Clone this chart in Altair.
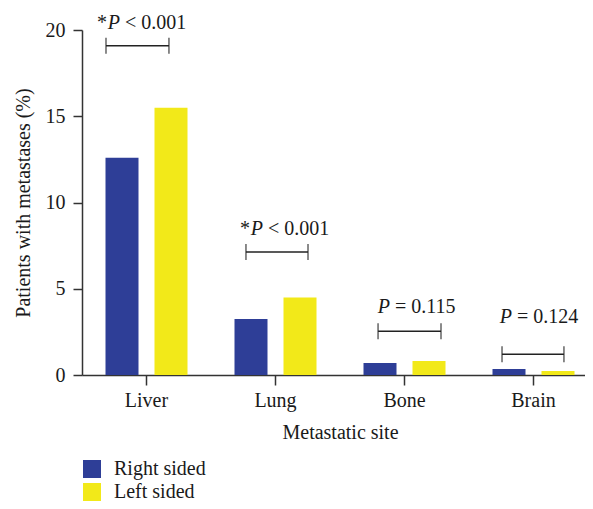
import altair as alt
import pandas as pd

sites = ["Liver", "Lung", "Bone", "Brain"]
sides = ["Right sided", "Left sided"]
colors = ["#2E3E97", "#F2E919"]
right_vals = [12.6, 3.24, 0.69, 0.35]
left_vals = [15.5, 4.5, 0.81, 0.23]

# annotation data (x in category units: Liver spans 0-1, Lung 1-2, ...)
br_x1 = [0.186, 1.271, 2.295, 3.256]
br_x2 = [0.674, 1.752, 2.783, 3.736]
br_y = [19.08, 7.13, 2.54, 1.21]
lab_x = [0.295, 1.403, 2.388, 3.333]
lab_y = [20.04, 8.09, 3.58, 3.02]
lab_star = ["*", "*", "", ""]
lab_p = ["P", "P", "P", "P"]
lab_rest = ["< 0.001", "< 0.001", "= 0.115", "= 0.124"]

FONT = "Liberation Serif"
XRANGE = [0, 516]

bars_df = pd.DataFrame({
    "site": sites * 2,
    "side": [sides[0]] * 4 + [sides[1]] * 4,
    "value": right_vals + left_vals,
})
br_df = pd.DataFrame({"x1": br_x1, "x2": br_x2, "y": br_y})
ends_df = pd.DataFrame({"x": br_x1 + br_x2, "y": br_y + br_y})
lab_df = pd.DataFrame({"x": lab_x, "y": lab_y, "star": lab_star, "p": lab_p, "rest": lab_rest})

yscale = alt.Scale(domain=[0, 20])

bars = alt.Chart(bars_df).mark_bar().encode(
    x=alt.X("site:N", sort=sites,
            scale=alt.Scale(paddingInner=0, paddingOuter=0, range=XRANGE),
            axis=alt.Axis(title="Metastatic site", labelAngle=0, tickSize=10,
                          labelPadding=5, titlePadding=12, titleX=258)),
    xOffset=alt.XOffset("side:N", sort=sides,
                        scale=alt.Scale(paddingInner=0.3265, paddingOuter=0.4795)),
    y=alt.Y("value:Q", scale=yscale,
            axis=alt.Axis(title="Patients with metastases (%)", values=[0, 5, 10, 15, 20],
                          tickSize=9, labelPadding=8, titlePadding=12)),
    color=alt.Color("side:N", sort=sides,
                    scale=alt.Scale(domain=sides, range=colors),
                    legend=alt.Legend(title=None, orient="none", legendX=0, legendY=429,
                                      symbolType="square", symbolSize=324,
                                      symbolStrokeWidth=0, labelFontSize=20,
                                      labelFont=FONT, labelOffset=12, rowPadding=3,
                                      labelColor="#1a1a1a")),
)

qscale = alt.Scale(domain=[0, 4], nice=False, zero=False, range=XRANGE)
xq = alt.X("x:Q", scale=qscale, axis=None)

rules = alt.Chart(br_df).mark_rule(color="#222", strokeWidth=1.5).encode(
    x=alt.X("x1:Q", scale=qscale, axis=None),
    x2="x2:Q",
    y=alt.Y("y:Q", scale=yscale),
)
ends = alt.Chart(ends_df).mark_tick(orient="vertical", size=16, thickness=1.5, color="#222").encode(
    x=xq, y=alt.Y("y:Q", scale=yscale),
)
star = alt.Chart(lab_df).mark_text(align="right", baseline="alphabetic", dx=-13,
                                   font=FONT, fontSize=20, color="#1a1a1a").encode(
    x=xq, y=alt.Y("y:Q", scale=yscale), text="star:N")
ptext = alt.Chart(lab_df).mark_text(align="right", baseline="alphabetic", fontStyle="italic",
                                    font=FONT, fontSize=20, color="#1a1a1a").encode(
    x=xq, y=alt.Y("y:Q", scale=yscale), text="p:N")
rest = alt.Chart(lab_df).mark_text(align="left", baseline="alphabetic", dx=5,
                                   font=FONT, fontSize=20, color="#1a1a1a").encode(
    x=xq, y=alt.Y("y:Q", scale=yscale), text="rest:N")

chart = alt.layer(bars, rules, ends, star, ptext, rest).resolve_scale(
    x="independent"
).properties(
    width=503, height=345,
    autosize=alt.AutoSizeParams(type="none"),
    padding={"left": 74, "top": 22, "right": 0, "bottom": 126},
).configure_view(stroke=None).configure_axis(
    grid=False, domainColor="#333", domainWidth=1.5, tickColor="#333", tickWidth=1.5,
    labelFont=FONT, titleFont=FONT, labelFontSize=20, titleFontSize=20,
    titleFontWeight="normal", labelColor="#1a1a1a", titleColor="#1a1a1a",
)

chart.save("out.html", embed_options={"renderer": "svg", "actions": False})
